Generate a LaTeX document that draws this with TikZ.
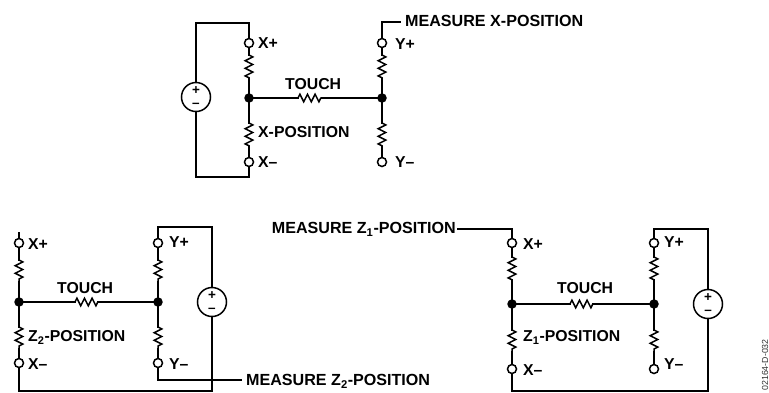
\documentclass[tikz,border=0pt]{standalone}
\usepackage{fontspec}
\setmainfont{Liberation Sans}
\usetikzlibrary{decorations.pathmorphing}
\newcommand{\subn}[1]{\smash{\textsubscript{#1}}}
\tikzset{
  x=1pt,y=-1pt,
  wire/.style={line width=1.5pt,line cap=rect,line join=miter},
  term/.style={circle,draw,line width=1.5pt,fill=white,inner sep=0pt,minimum size=9pt},
  junc/.style={circle,fill=black,inner sep=0pt,minimum size=9.5pt},
  src/.style={circle,draw,line width=1.5pt,fill=white,inner sep=0pt,minimum size=29pt,align=center,
    font=\fontsize{13.5}{13}\selectfont\bfseries},
  lab/.style={font=\fontsize{15.8}{17}\selectfont\bfseries,inner sep=0pt,anchor=west},
  mlab/.style={lab,font=\fontsize{16.1}{17}\selectfont\bfseries},
  res/.style={wire,line cap=butt,decorate,decoration={zigzag,segment length=7.6pt,amplitude=3.8pt}}
}
\newcommand{\source}[3]{%
  \node[src] (#1) at (#2,#3) {+\\–};
}
\begin{document}
\begin{tikzpicture}
\useasboundingbox (0,0) rectangle (769,392);
% ---------- top circuit
\source{sa}{196}{97}
\node[term] (axp) at (249,43) {};
\node[term] (axm) at (249,162) {};
\node[term] (ayp) at (382,43) {};
\node[term] (aym) at (382,162) {};
\node[junc] (aj) at (249,98) {};
\node[junc] (ak) at (382,98) {};
\coordinate (atl) at (196,23); \coordinate (atr) at (249,23);
\coordinate (abl) at (196,177); \coordinate (abr) at (249,177);
\coordinate (am1) at (382,22);
\coordinate (a1) at (249,55); \coordinate (a2) at (249,79);
\coordinate (a3) at (249,123); \coordinate (a4) at (249,147);
\coordinate (a5) at (382,55); \coordinate (a6) at (382,79);
\coordinate (a7) at (382,123); \coordinate (a8) at (382,147);
\coordinate (a9) at (298,98); \coordinate (a10) at (322,98);
\node[mlab] (ameas) at (405,21) {MEASURE X-POSITION};
\coordinate (am2) at (400,22);
\draw[wire] (sa) -- (atl) -- (atr) -- (axp);
\draw[wire] (sa) -- (abl) -- (abr) -- (axm);
\draw[wire] (axp) -- (a1) (a2) -- (aj) -- (a3) (a4) -- (axm);
\draw[wire] (ayp) -- (a5) (a6) -- (ak) -- (a7) (a8) -- (aym);
\draw[wire] (aj) -- (a9) (a10) -- (ak);
\draw[wire] (ayp) -- (am1) -- (am2);
\draw[res] (a1) -- (a2); \draw[res] (a3) -- (a4);
\draw[res] (a5) -- (a6); \draw[res] (a7) -- (a8);
\draw[res] (a9) -- (a10);
\node[lab] at (258,43) {X+};
\node[lab] at (258,162) {X–};
\node[lab] at (395,44) {Y+};
\node[lab] at (395,162) {Y–};
\node[lab] at (285,84) {TOUCH};
\node[lab] at (258,132) {X-POSITION};
% ---------- bottom left circuit
\source{sb}{212}{302}
\node[term] (bxp) at (19,243) {};
\node[term] (bxm) at (19,363) {};
\node[term] (byp) at (158,243) {};
\node[term] (bym) at (158,363) {};
\node[junc] (bj) at (19,302) {};
\node[junc] (bk) at (158,302) {};
\coordinate (bst) at (19,233);
\coordinate (btl) at (158,227); \coordinate (btr) at (212,227);
\coordinate (bbl) at (19,391); \coordinate (bbr) at (212,391);
\coordinate (bm1) at (158,380); \coordinate (bm2) at (241,380);
\coordinate (b1) at (19,260); \coordinate (b2) at (19,282);
\coordinate (b3) at (19,327); \coordinate (b4) at (19,349);
\coordinate (b5) at (158,260); \coordinate (b6) at (158,282);
\coordinate (b7) at (158,327); \coordinate (b8) at (158,349);
\coordinate (b9) at (75,302); \coordinate (b10) at (98,302);
\node[mlab] (bmeas) at (246,380) {MEASURE Z\subn{2}-POSITION};
\draw[wire] (sb) -- (btr) -- (btl) -- (byp);
\draw[wire] (sb) -- (bbr) -- (bbl) -- (bxm);
\draw[wire] (bst) -- (bxp) -- (b1) (b2) -- (bj) -- (b3) (b4) -- (bxm);
\draw[wire] (byp) -- (b5) (b6) -- (bk) -- (b7) (b8) -- (bym);
\draw[wire] (bj) -- (b9) (b10) -- (bk);
\draw[wire] (bym) -- (bm1) -- (bm2);
\draw[res] (b1) -- (b2); \draw[res] (b3) -- (b4);
\draw[res] (b5) -- (b6); \draw[res] (b7) -- (b8);
\draw[res] (b9) -- (b10);
\node[lab] at (28,244) {X+};
\node[lab] at (28,364) {X–};
\node[lab] at (169,242) {Y+};
\node[lab] at (169,364) {Y–};
\node[lab] at (57,288) {TOUCH};
\node[lab] at (28,336) {Z\subn{2}-POSITION};
% ---------- bottom right circuit
\source{sc}{708}{304}
\node[term] (cxp) at (512,243) {};
\node[term] (cxm) at (512,369) {};
\node[term] (cyp) at (654,243) {};
\node[term] (cym) at (654,369) {};
\node[junc] (cj) at (512,304) {};
\node[junc] (ck) at (654,304) {};
\coordinate (ctl) at (512,229);
\coordinate (ctr) at (654,229); \coordinate (ctr2) at (708,229);
\coordinate (cbl) at (512,391); \coordinate (cbr) at (708,391);
\coordinate (cm0) at (458,229);
\coordinate (c1) at (512,257); \coordinate (c2) at (512,280);
\coordinate (c3) at (512,330); \coordinate (c4) at (512,352);
\coordinate (c5) at (654,257); \coordinate (c6) at (654,280);
\coordinate (c7) at (654,330); \coordinate (c8) at (654,352);
\coordinate (c9) at (570,304); \coordinate (c10) at (593,304);
\node[mlab,anchor=east] (cmeas) at (456,228) {MEASURE Z\subn{1}-POSITION};
\draw[wire] (sc) -- (ctr2) -- (ctr) -- (cyp);
\draw[wire] (sc) -- (cbr) -- (cbl) -- (cxm);
\draw[wire] (cm0) -- (ctl) -- (cxp);
\draw[wire] (cxp) -- (c1) (c2) -- (cj) -- (c3) (c4) -- (cxm);
\draw[wire] (cyp) -- (c5) (c6) -- (ck) -- (c7) (c8) -- (cym);
\draw[wire] (cj) -- (c9) (c10) -- (ck);
\draw[res] (c1) -- (c2); \draw[res] (c3) -- (c4);
\draw[res] (c5) -- (c6); \draw[res] (c7) -- (c8);
\draw[res] (c9) -- (c10);
\node[lab] at (523,244) {X+};
\node[lab] at (523,370) {X–};
\node[lab] at (664,242) {Y+};
\node[lab] at (664,364) {Y–};
\node[lab] at (557,288) {TOUCH};
\node[lab] at (523,336) {Z\subn{1}-POSITION};
\node[font=\fontsize{8.8}{10}\selectfont,rotate=90,inner sep=0pt,anchor=east,text=black!80] at (765,339) {02164-D-032};
\end{tikzpicture}
\end{document}
